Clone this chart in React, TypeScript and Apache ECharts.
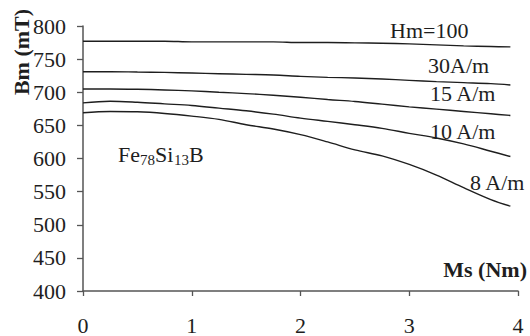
import React, { useEffect, useRef } from "react";
import * as echarts from "echarts";

const msValues = [0, 0.25, 0.5, 0.75, 1, 1.25, 1.5, 1.75, 2, 2.25, 2.5, 2.75, 3, 3.25, 3.5, 3.75, 3.93];
const bmHm100 = [777, 777, 777, 777, 776, 776, 776, 776, 775, 775, 774.5, 774, 773, 771.5, 770, 769, 768.5];
const bm30 = [731, 731, 730.5, 730, 729, 728, 727, 726, 724, 722.5, 721.5, 720, 718, 716, 714.5, 713, 711];
const bm15 = [705, 705, 704.5, 703.5, 702, 700, 698, 695.5, 692.5, 689, 686, 682, 678, 674.5, 671, 667.5, 665];
const bm10 = [684, 686.5, 685, 682.5, 680, 676, 672, 667, 661, 656, 651, 645.5, 638, 631, 622, 611, 603];
const bm8 = [669, 671, 670.5, 668, 664, 659, 651, 644.5, 636, 625, 613, 604, 591, 575, 556, 538, 528];

const seriesNames = ["Hm=100", "30A/m", "15 A/m", "10 A/m", "8 A/m"];
const seriesValues = [bmHm100, bm30, bm15, bm10, bm8];
const yTicks = { min: 400, max: 800, interval: 50 };
const xTicks = { min: 0, max: 4, interval: 1 };

const FONT = "Liberation Serif";
const INK = "#1e1e1e";

export default function App() {
  const ref = useRef<HTMLDivElement>(null);
  useEffect(() => {
    if (!ref.current) return;
    const chart = echarts.init(ref.current, null, { renderer: "svg" });
    const txt = (text: string, x: number, y: number, extra: any = {}, more: any = {}) => ({
      type: "text",
      x,
      y,
      silent: true,
      ...more,
      style: {
        text,
        fill: INK,
        fontFamily: FONT,
        fontSize: 22,
        align: "left",
        verticalAlign: "middle",
        ...extra,
      },
    });
    chart.setOption({
      animation: false,
      backgroundColor: "#ffffff",
      textStyle: { fontFamily: FONT },
      grid: { left: 83, right: 12, top: 26, bottom: 45, containLabel: false, outerBoundsMode: "none" },
      xAxis: {
        type: "value",
        min: xTicks.min,
        max: xTicks.max,
        interval: xTicks.interval,
        axisLine: { onZero: false, lineStyle: { color: "#555", width: 1.5 } },
        axisTick: { show: true, length: 5, inside: false, lineStyle: { color: "#555", width: 1.3 } },
        axisLabel: { margin: 24, color: INK, fontFamily: FONT, fontSize: 22, lineHeight: 20 },
        splitLine: { show: false },
      },
      yAxis: {
        type: "value",
        min: yTicks.min,
        max: yTicks.max,
        interval: yTicks.interval,
        axisLine: { show: true, lineStyle: { color: "#555", width: 1.5 } },
        axisTick: { show: true, length: 6, inside: false, lineStyle: { color: "#555", width: 1.3 } },
        axisLabel: { margin: 17, color: INK, fontFamily: FONT, fontSize: 22 },
        splitLine: { show: false },
      },
      series: seriesValues.map((vals, i) => ({
        type: "line",
        name: seriesNames[i],
        data: msValues.map((x, j) => [x, vals[j]]),
        smooth: 0.35,
        showSymbol: false,
        symbol: "none",
        lineStyle: { color: INK, width: 1.4 },
        silent: true,
      })),
      graphic: [
        txt("Bm (mT)", 21, 52, { fontWeight: "bold", align: "center" }, { rotation: Math.PI / 2 }),
        txt("Ms (Nm)", 527, 269, { fontWeight: "bold", align: "right" }),
        txt("Hm=100", 390, 30),
        txt("30A/m", 428, 65),
        txt("15 A/m", 430, 93),
        txt("10 A/m", 430, 131),
        txt("8 A/m", 470, 182),
        txt("Fe", 118, 154),
        txt("78", 140, 160, { fontSize: 15 }),
        txt("Si", 155, 154),
        txt("13", 174, 160, { fontSize: 15 }),
        txt("B", 189, 154),
      ],
    });
    return () => chart.dispose();
  }, []);
  return (
    <div
      ref={ref}
      style={{ position: "fixed", left: 0, top: 0, width: 530, height: 336, background: "#fff" }}
    />
  );
}
